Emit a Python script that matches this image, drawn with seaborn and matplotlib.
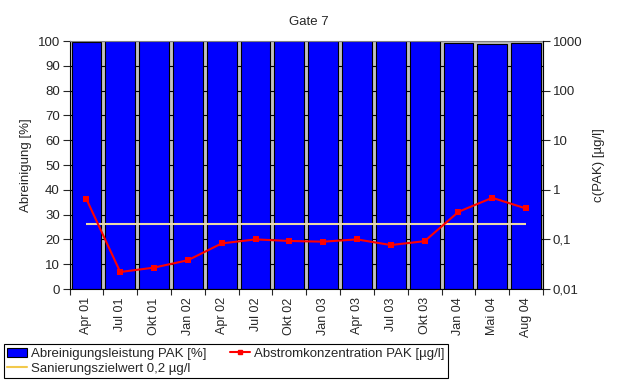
import numpy as np
import pandas as pd
import seaborn as sns
import matplotlib.pyplot as plt
from matplotlib.lines import Line2D
from matplotlib.patches import Patch
from matplotlib.ticker import FixedLocator, FuncFormatter

# data
quartale = ["Apr 01", "Jul 01", "Okt 01", "Jan 02", "Apr 02", "Jul 02", "Okt 02",
            "Jan 03", "Apr 03", "Jul 03", "Okt 03", "Jan 04", "Mai 04", "Aug 04"]
abreinigung = [99.5, 99.9, 99.9, 99.9, 99.9, 99.9, 99.9,
               99.9, 99.9, 99.9, 99.9, 99.3, 98.8, 99.3]
abstrom = [0.65, 0.022, 0.027, 0.038, 0.083, 0.10, 0.093,
           0.09, 0.10, 0.077, 0.092, 0.36, 0.69, 0.42]
zielwert = 0.2

sns.set_style("white")
plt.rcParams['font.family'] = ['Liberation Sans', 'DejaVu Sans']
plt.rcParams['font.size'] = 9.5

df = pd.DataFrame({"quartal": quartale, "abreinigung": abreinigung, "abstrom": abstrom})
n = len(quartale)

fig = plt.figure(figsize=(6.18, 3.83), dpi=100)
ax = fig.add_axes([69.5 / 618, 1 - 289 / 383, (543 - 69.5) / 618, (289 - 41) / 383])
ax.set_facecolor("#C0C0C0")

sns.barplot(data=df, x="quartal", y="abreinigung", color="#0000FF", saturation=1,
            width=0.88, edgecolor="black", linewidth=0.8, ax=ax, zorder=2)
ax.set_xlim(-0.5, n - 0.5)
ax.set_ylim(0, 100)
ax.set_yticks(np.arange(0, 101, 10))
ax.yaxis.grid(True, color="black", linewidth=0.8, zorder=0)
ax.set_axisbelow(True)
ax.set_xlabel("")
ax.set_ylabel("Abreinigung [%]")
ax.tick_params(axis="x", which="major", length=0, rotation=90, pad=6, labelsize=9)
ax.xaxis.set_minor_locator(FixedLocator(np.arange(n + 1) - 0.5))
ax.tick_params(axis="x", which="minor", length=4, width=0.8, direction="out", bottom=True)
ax.tick_params(axis="y", length=5, width=0.8, direction="out", left=True, pad=2)
for s in ax.spines.values():
    s.set_color("#808080")
ax.spines["left"].set_color("black")
ax.spines["bottom"].set_color("black")

# log axis for concentration
ax2 = ax.twinx()
ax2.set_yscale("log")
ax2.set_ylim(0.01, 1000)
sns.lineplot(x=np.arange(n), y=df["abstrom"], color="#FF0000", marker="s", markersize=4,
             markeredgewidth=0, linewidth=1.5, ax=ax2, zorder=4)
ax2.hlines(zielwert, 0, n - 1, color="#EBD9A8", linewidth=1.5, zorder=3)
ax2.yaxis.set_major_locator(FixedLocator([0.01, 0.1, 1, 10, 100, 1000]))
ax2.yaxis.set_minor_locator(FixedLocator([]))
ax2.yaxis.set_major_formatter(FuncFormatter(lambda v, p: ("%g" % v).replace(".", ",")))
ax2.tick_params(axis="y", length=5, width=0.8, direction="out", right=True, pad=2)
ax2.set_ylabel("c(PAK) [µg/l]", labelpad=8)
for s in ax2.spines.values():
    s.set_visible(False)
ax2.spines["right"].set_visible(True)
ax2.spines["right"].set_color("black")
ax2.set_xlim(-0.5, n - 0.5)

fig.text(309 / 618, 1 - 22 / 383, "Gate 7", ha="center", va="center", fontsize=9.5)

handles = [Patch(facecolor="#0000FF", edgecolor="black", linewidth=0.8),
           Line2D([], [], color="#F2C94C", linewidth=1.5),
           Line2D([], [], color="#FF0000", marker="s", markersize=3, linewidth=1.5)]
labels = ["Abreinigungsleistung PAK [%]", "Sanierungszielwert 0,2 µg/l",
          "Abstromkonzentration PAK [µg/l]"]
leg = fig.legend(handles, labels, ncol=2, loc="lower left",
                 bbox_to_anchor=(4 / 618, 5 / 383), borderaxespad=0,
                 frameon=True, fancybox=False,
                 edgecolor="black", framealpha=1, borderpad=0.25, handlelength=1.5,
                 handletextpad=0.3, columnspacing=1.8, labelspacing=0.2, fontsize=9.5)
leg.get_frame().set_linewidth(0.8)

fig.savefig("out.png", dpi=100)
